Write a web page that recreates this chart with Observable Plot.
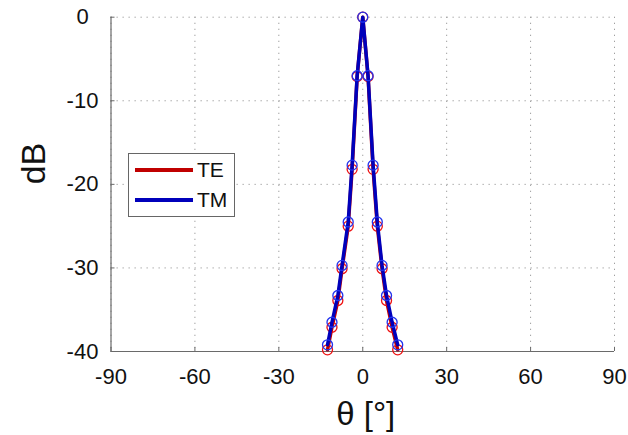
<!DOCTYPE html>
<html>
<head>
<meta charset="utf-8">
<script src="https://cdn.jsdelivr.net/npm/d3@7"></script>
<script src="https://cdn.jsdelivr.net/npm/@observablehq/plot@0.6"></script>
<style>
  html, body { margin: 0; padding: 0; background: #fff; }
  #wrap { position: relative; width: 628px; height: 435px; font-family: "Liberation Sans", Arial, sans-serif; }
  #legend { position: absolute; left: 128px; top: 153px; width: 105px; height: 62px; border: 1px solid #666; background: #fff; box-sizing: content-box; }
  .item { position: absolute; left: 0; height: 24px; width: 105px; }
  .swatch { position: absolute; left: 6px; width: 58px; height: 3.5px; top: 10px; }
  .lab { position: absolute; left: 68px; top: 0; font-size: 21px; line-height: 24px; color: #111; }
</style>
</head>
<body>
<div id="wrap"></div>
<script>
// Values
const theta = [-12.6, -11.0, -8.9, -7.4, -5.2, -3.8, -2.0, 0, 1.9, 3.7, 5.2, 6.9, 8.5, 10.5, 12.5];
const teDB  = [-39.8, -37.1, -33.9, -30.1, -25.0, -18.2, -7.1, 0, -7.1, -18.2, -25.0, -30.1, -33.9, -37.1, -39.8];
const tmDB  = [-39.2, -36.5, -33.3, -29.7, -24.5, -17.7, -7.0, 0, -7.0, -17.7, -24.5, -29.7, -33.3, -36.5, -39.2];
const xTicks = [-90, -60, -30, 0, 30, 60, 90];
const yTicks = [0, -10, -20, -30, -40];
const seriesNames = ["TE", "TM"];
const lineColors = ["#c00000", "#0000bb"];
const markColors = ["#ee1111", "#2233ee"];

const te = theta.map((t, i) => ({theta: t, db: teDB[i]}));
const tm = theta.map((t, i) => ({theta: t, db: tmDB[i]}));

const axisStroke = "#6a6a6a";
const gridStyle = {stroke: "#a0a0a0", strokeOpacity: 1, strokeDasharray: "1.3,4.7", strokeWidth: 1};
const fmt = d => String(d);

const chart = Plot.plot({
  width: 628,
  height: 435,
  marginLeft: 110.5,
  marginRight: 14,
  marginTop: 16.7,
  marginBottom: 84,
  style: {fontFamily: '"Liberation Sans", Arial, sans-serif', background: "#fff", overflow: "visible"},
  x: {domain: [-90, 90]},
  y: {domain: [-40, 0]},
  marks: [
    Plot.gridX(xTicks, gridStyle),
    Plot.gridY(yTicks, gridStyle),
    Plot.ruleX([-90], {stroke: axisStroke, strokeWidth: 1.2}),
    Plot.ruleY([-40], {stroke: axisStroke, strokeWidth: 1.2}),
    Plot.axisX(xTicks, {tickSize: 4, dy: -4, fill: "none", stroke: axisStroke, label: null}),
    Plot.axisY(yTicks, {tickSize: 4, dx: 4, fill: "none", stroke: axisStroke, label: null}),
    Plot.axisX(xTicks, {tickSize: 0, tickPadding: 17, fontSize: 22, fill: "#111", label: null, tickFormat: fmt}),
    Plot.axisY(yTicks, {tickSize: 0, tickPadding: 28.5, textAnchor: "middle", fontSize: 22, fill: "#111", label: null, tickFormat: fmt}),
    Plot.line(te, {x: "theta", y: "db", stroke: lineColors[0], strokeWidth: 3.5}),
    Plot.dot(te, {x: "theta", y: "db", r: 5, stroke: markColors[0], strokeWidth: 1.3, fill: "none"}),
    Plot.line(tm, {x: "theta", y: "db", stroke: lineColors[1], strokeWidth: 3.5}),
    Plot.dot(tm, {x: "theta", y: "db", r: 5, stroke: markColors[1], strokeWidth: 1.3, fill: "none"}),
    Plot.text(["dB"], {frameAnchor: "left", dx: -77, rotate: -90, fontSize: 34, fill: "#111", lineAnchor: "middle"}),
    Plot.text(["θ [°]"], {frameAnchor: "bottom", dy: 63, dx: 3, fontSize: 33, fill: "#111", lineAnchor: "middle"})
  ]
});

const wrap = document.getElementById("wrap");
wrap.appendChild(chart);

const legend = document.createElement("div");
legend.id = "legend";
seriesNames.forEach((name, i) => {
  const item = document.createElement("div");
  item.className = "item";
  item.style.top = (4 + i * 30) + "px";
  const sw = document.createElement("div");
  sw.className = "swatch";
  sw.style.background = lineColors[i];
  const lab = document.createElement("span");
  lab.className = "lab";
  lab.textContent = name;
  item.appendChild(sw);
  item.appendChild(lab);
  legend.appendChild(item);
});
wrap.appendChild(legend);
</script>
</body>
</html>
